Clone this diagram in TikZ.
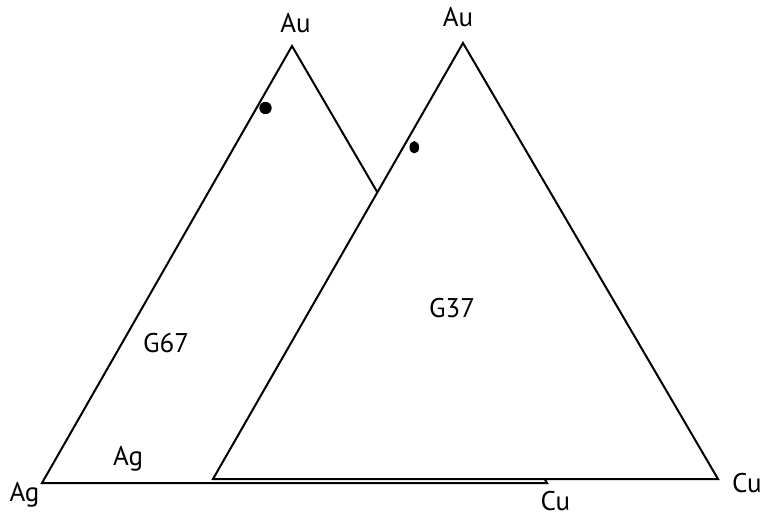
\documentclass[tikz,border=0pt]{standalone}
\usepackage{fontspec}
\setmainfont{PT Sans}

\begin{document}
\begin{tikzpicture}[
  x=1pt,
  y=-1pt,
  side/.style={draw=black, line width=2pt, line join=miter},
  element/.style={inner sep=0pt, anchor=base, font=\fontsize{27}{32}\selectfont},
  sample/.style={inner sep=0pt, anchor=base, font=\fontsize{27}{32}\selectfont},
  spot/.style={fill=black, draw=none}
]
\useasboundingbox (0,0) rectangle (764,516);

% Corners of the two ternary triangles (pixel units, y downwards).
\coordinate (agL) at (42,483);
\coordinate (auL) at (292,46);
\coordinate (cuL) at (547,483);

\coordinate (agR) at (213,479);
\coordinate (auR) at (463,43);
\coordinate (cuR) at (718,479);

% Left triangle first, right one on top of it with a white fill.
\draw[side] (agL) -- (auL) -- (cuL) -- cycle;
\filldraw[side, fill=white] (agR) -- (auR) -- (cuR) -- cycle;

% Composition points.
\fill[spot] (265.5,108) circle[radius=6.2];
\fill[spot] (414.3,147.3) ellipse[x radius=4.8, y radius=6.2];

% Vertex labels (placed on their baselines).
\node[element] (auLlab) at (295.5,33) {Au};
\node[element] (auRlab) at (458,27)   {Au};
\node[element] (agLlab) at (24.5,501) {Ag};
\node[element] (agRlab) at (128,465)  {Ag};
\node[element] (cuLlab) at (555.5,510) {Cu};
\node[element] (cuRlab) at (747,492)  {Cu};

% Sample names.
\node[sample] (g67) at (166,352) {G67};
\node[sample] (g37) at (452,317) {G37};

\end{tikzpicture}
\end{document}
